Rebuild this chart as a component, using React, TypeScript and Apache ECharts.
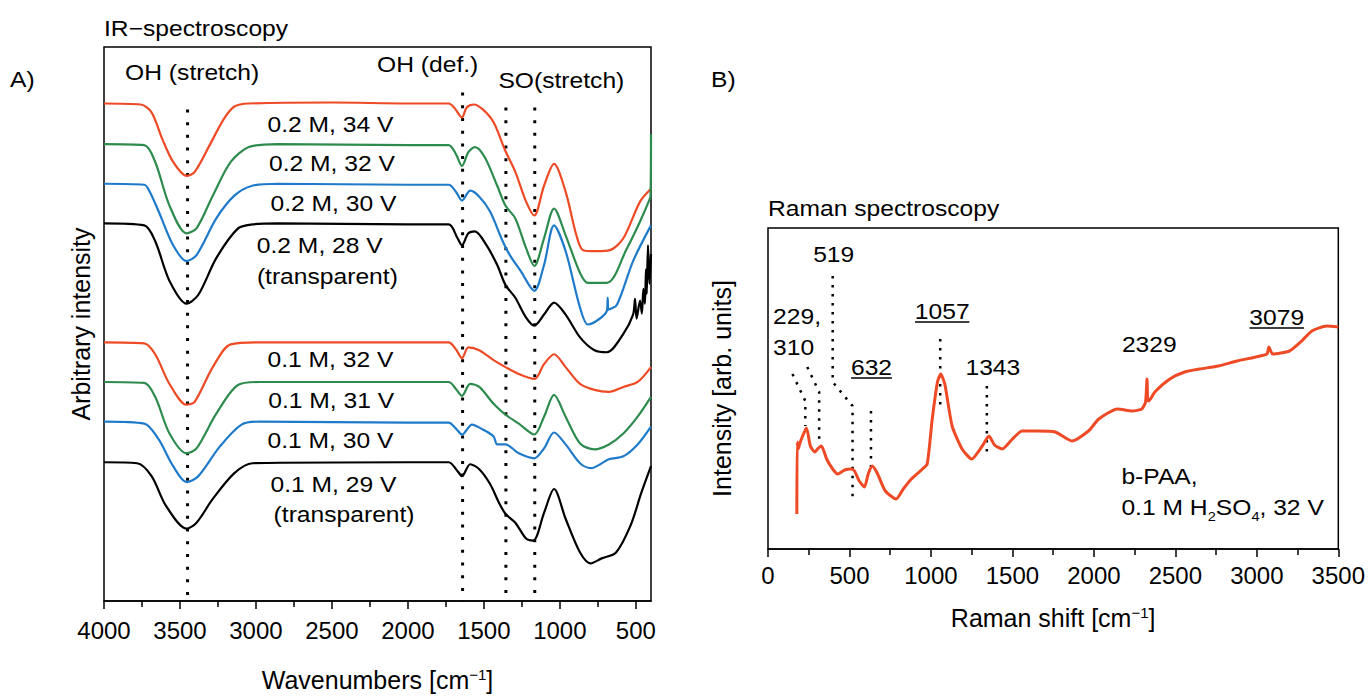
import React, { useEffect, useRef } from "react";
import * as echarts from "echarts";

const FONT = "'Liberation Sans', Arial, sans-serif";
const FS = 24;
const FS_NAME = 25;
const FS_TXT = 22;
const TXT_SCALE_X = 1.12;

// ---------- IR data (wavenumber, arbitrary intensity) ----------
const IR_A1_X = [4000, 3758, 3687, 3616, 3545, 3457, 3403, 3308, 3213, 3142, 3047, 2500, 2000, 1732, 1696, 1644, 1613, 1566, 1507, 1436, 1358, 1293, 1222, 1168, 1104, 1038, 962, 891, 847, 760, 670, 582, 472, 400];
const IR_A1_Y = [502, 501, 493, 466, 443, 429, 433, 459, 486, 499, 502, 503, 502, 502, 498, 488, 498, 501, 496, 483, 454, 433, 403, 389, 419, 441, 413, 369, 354, 353, 354, 366, 403, 416];

const IR_A2_X = [4000, 3735, 3663, 3569, 3457, 3391, 3284, 3166, 3047, 2858, 2000, 1732, 1684, 1644, 1602, 1559, 1495, 1412, 1358, 1293, 1222, 1168, 1104, 1038, 962, 867, 815, 690, 558, 472, 410, 403, 400];
const IR_A2_Y = [461, 460, 443, 399, 371, 376, 409, 443, 458, 461, 460, 460, 451, 439, 453, 458, 448, 419, 399, 386, 356, 338, 366, 396, 369, 331, 321, 321, 356, 383, 405, 409, 471];

const IR_A3_X = [4000, 3735, 3699, 3640, 3545, 3457, 3391, 3261, 3142, 3024, 2858, 2000, 1732, 1684, 1644, 1590, 1530, 1459, 1376, 1329, 1258, 1168, 1104, 1038, 962, 867, 815, 690, 685, 680, 624, 518, 400];
const IR_A3_Y = [421, 420, 413, 393, 359, 343, 349, 386, 409, 419, 421, 420, 420, 413, 404, 414, 408, 393, 363, 349, 333, 313, 339, 379, 353, 296, 279, 293, 306, 294, 299, 343, 379];

const IR_A4_X = [4000, 3735, 3663, 3569, 3457, 3379, 3261, 3118, 3024, 2858, 2000, 1732, 1673, 1644, 1602, 1559, 1483, 1412, 1358, 1293, 1222, 1168, 1104, 1038, 962, 867, 772, 690, 584, 518, 505, 495, 472, 460, 450, 440, 433, 428, 420, 410, 400];
const IR_A4_Y = [381, 379, 363, 323, 300, 309, 346, 376, 380, 381, 380, 380, 366, 359, 371, 373, 359, 339, 319, 306, 286, 278, 289, 301, 289, 266, 253, 251, 269, 289, 305, 285, 303, 290, 315, 300, 335, 310, 359, 320, 350];

const IR_B1_X = [4000, 3735, 3663, 3569, 3457, 3403, 3284, 3166, 2976, 2000, 1732, 1684, 1644, 1602, 1530, 1436, 1358, 1270, 1168, 1104, 1038, 962, 867, 772, 677, 582, 488, 400];
const IR_B1_Y = [261, 260, 249, 219, 198, 201, 236, 259, 261, 261, 261, 254, 245, 256, 253, 243, 236, 229, 224, 239, 249, 236, 219, 213, 211, 216, 221, 236];

const IR_B2_X = [4000, 3735, 3663, 3569, 3457, 3391, 3261, 3118, 2976, 2000, 1732, 1684, 1644, 1590, 1530, 1436, 1358, 1270, 1168, 1104, 1038, 962, 867, 772, 677, 582, 488, 400];
const IR_B2_Y = [221, 220, 206, 169, 149, 154, 189, 218, 221, 221, 221, 214, 207, 219, 216, 199, 188, 179, 168, 186, 208, 186, 159, 153, 158, 169, 186, 206];

const IR_B3_X = [4000, 3735, 3640, 3545, 3457, 3379, 3237, 3095, 2976, 2000, 1732, 1684, 1644, 1578, 1507, 1436, 1412, 1358, 1270, 1168, 1104, 1038, 962, 867, 796, 677, 582, 488, 400];
const IR_B3_Y = [181, 179, 163, 136, 120, 126, 156, 178, 181, 180, 180, 174, 168, 178, 173, 166, 158, 158, 149, 144, 154, 170, 158, 139, 134, 143, 146, 158, 176];

const IR_B4_X = [4000, 3782, 3687, 3592, 3457, 3391, 3284, 3142, 3024, 2000, 1732, 1673, 1644, 1590, 1530, 1459, 1400, 1358, 1293, 1222, 1175, 1104, 1038, 962, 867, 796, 725, 630, 535, 464, 400];
const IR_B4_Y = [140, 139, 126, 96, 73, 79, 103, 129, 139, 140, 140, 131, 126, 138, 133, 118, 99, 88, 79, 63, 61, 89, 113, 83, 49, 38, 43, 49, 76, 109, 136];

const IR_COLORS = ["#ee4a26", "#2e8b4e", "#1f7bc9", "#000000", "#ee4a26", "#2e8b4e", "#1f7bc9", "#000000"];

// IR annotation lines (wavenumber, top)
const IR_MARK_X = [3450, 1640, 1355, 1165];
const IR_MARK_TOP = [496, 513, 498, 498];

// IR labels
const IR_LABELS = ["0.2 M, 34 V", "0.2 M, 32 V", "0.2 M, 30 V", "0.2 M, 28 V", "(transparent)", "0.1 M, 32 V", "0.1 M, 31 V", "0.1 M, 30 V", "0.1 M, 29 V", "(transparent)"];
const IR_LABEL_X = [2510, 2500, 2490, 2580, 2530, 2510, 2505, 2510, 2490, 2420];
const IR_LABEL_Y = [481, 441, 401, 359, 327, 244, 202, 162, 118, 87];
const IR_HEAD = ["OH (stretch)", "OH (def.)", "SO(stretch)"];
const IR_HEAD_X = [3420, 1870, 990];
const IR_HEAD_Y = [533, 541, 525];

// ---------- Raman data ----------
const RAMAN_X = [177, 179, 186, 196, 210, 236, 260, 287, 310, 328, 360, 397, 428, 470, 510, 531, 560, 592, 615, 640, 670, 720, 786, 830, 880, 948, 977, 1008, 1040, 1060, 1085, 1130, 1191, 1250, 1315, 1356, 1390, 1437, 1500, 1559, 1650, 1763, 1865, 1967, 2030, 2145, 2237, 2294, 2317, 2326, 2330, 2337, 2374, 2466, 2557, 2649, 2764, 2879, 2994, 3062, 3074, 3097, 3200, 3269, 3338, 3430, 3500];
const RAMAN_Y = [35, 107, 100, 106, 112, 121, 103, 97, 101, 103, 90, 80, 75, 79, 80, 78, 68, 62, 75, 83, 76, 58, 50, 60, 70, 80, 85, 130, 167, 175, 165, 123, 100, 90, 103, 113, 104, 100, 110, 118, 118, 117, 108, 118, 130, 140, 138, 140, 147, 170, 150, 148, 157, 170, 177, 180, 183, 188, 192, 195, 202, 195, 198, 207, 218, 223, 222];

// Raman dotted guide polylines
const RAMAN_GUIDES: number[][][] = [
  [[150, 175], [229, 148], [229, 123]],
  [[241, 182], [314, 157], [314, 110]],
  [[397, 273], [397, 167], [519, 143], [519, 48]],
  [[632, 138], [632, 82]],
  [[1057, 210], [1057, 143]],
  [[1343, 163], [1343, 95]],
];

const RAMAN_LABELS = ["519", "229,", "310", "632", "1057", "1343", "2329", "3079"];
const RAMAN_LABEL_X = [403, 31, 31, 635, 1069, 1380, 2340, 3122];
const RAMAN_LABEL_Y = [295, 233, 202, 182, 238, 182, 205, 232];
const RAMAN_LABEL_ALIGN = ["center", "left", "left", "center", "center", "center", "center", "center"];
const RAMAN_UNDERLINED = [false, false, false, true, true, false, false, true];

const IR_MAJOR = [4000, 3500, 3000, 2500, 2000, 1500, 1000, 500];
const IR_MINOR = [3750, 3250, 2750, 2250, 1750, 1250, 750];

const zip = (xs: number[], ys: number[]) => xs.map((x, i) => [x, ys[i]]);

export default function App() {
  const ref = useRef<HTMLDivElement>(null);

  useEffect(() => {
    const chart = echarts.init(ref.current!, null, { renderer: "svg" });

    const irSets = [
      [IR_A1_X, IR_A1_Y], [IR_A2_X, IR_A2_Y], [IR_A3_X, IR_A3_Y], [IR_A4_X, IR_A4_Y],
      [IR_B1_X, IR_B1_Y], [IR_B2_X, IR_B2_Y], [IR_B3_X, IR_B3_Y], [IR_B4_X, IR_B4_Y],
    ];

    const series: any[] = [];
    IR_MARK_X.forEach((x, i) => {
      series.push({
        type: "line", xAxisIndex: 0, yAxisIndex: 0, showSymbol: false, silent: true,
        data: [[x, IR_MARK_TOP[i]], [x, 0]],
        lineStyle: { color: "#000", width: 3, type: [3, 9.7], cap: "butt" },
      });
    });
    irSets.forEach(([xs, ys], i) => {
      series.push({
        type: "line", xAxisIndex: 0, yAxisIndex: 0, showSymbol: false,
        smooth: 0.3,
        data: zip(xs, ys),
        lineStyle: { color: IR_COLORS[i], width: 2.2 },
      });
    });
    RAMAN_GUIDES.forEach((pts) => {
      series.push({
        type: "line", xAxisIndex: 2, yAxisIndex: 1, showSymbol: false, silent: true,
        data: pts,
        lineStyle: { color: "#000", width: 2.5, type: [2.5, 6.5], cap: "butt" },
      });
    });
    series.push({
      type: "line", xAxisIndex: 2, yAxisIndex: 1, showSymbol: false,
      smooth: 0.2,
      data: zip(RAMAN_X, RAMAN_Y),
      lineStyle: { color: "#ee4a26", width: 3 },
    });

    const axisLineStyle = { lineStyle: { color: "#000", width: 1.5 } };
    const plain = (v: number) => String(v);
    const labelStyle = { color: "#000", fontSize: FS, fontFamily: FONT, formatter: plain };
    const nameStyle = {
      color: "#000", fontSize: FS_NAME, fontFamily: FONT,
      rich: { sup: { fontSize: 15, fontFamily: FONT, color: "#000", verticalAlign: "top" } },
    };

    chart.setOption({
      animation: false,
      backgroundColor: "#fff",
      textStyle: { fontFamily: FONT },
      grid: [
        { left: 104, top: 47, width: 547, height: 559, show: true, borderColor: "#000", borderWidth: 1.5, backgroundColor: "transparent" },
        { left: 768, top: 228, width: 573, height: 321, show: true, borderColor: "#000", borderWidth: 1.5, backgroundColor: "transparent" },
      ],
      xAxis: [
        {
          type: "value", gridIndex: 0, position: "bottom", min: 400, max: 4000, inverse: true,
          axisLine: axisLineStyle,
          axisTick: { show: true, length: 8, customValues: IR_MAJOR, lineStyle: { color: "#000", width: 1.5 } },
          axisLabel: { ...labelStyle, margin: 17, customValues: IR_MAJOR },
          splitLine: { show: false },
          name: "Wavenumbers [cm{sup|−1}]", nameLocation: "middle", nameGap: 66, nameTextStyle: nameStyle,
        },
        {
          type: "value", gridIndex: 0, position: "bottom", min: 400, max: 4000, inverse: true,
          axisLine: { show: false },
          axisTick: { show: true, length: 6, customValues: IR_MINOR, lineStyle: { color: "#000", width: 1.5 } },
          axisLabel: { show: false },
          splitLine: { show: false },
        },
        {
          type: "value", gridIndex: 1, position: "bottom", min: 0, max: 3500, interval: 500,
          axisLine: axisLineStyle,
          axisTick: { show: true, length: 8, lineStyle: { color: "#000", width: 1.5 } },
          minorTick: { show: true, splitNumber: 2, length: 6, lineStyle: { color: "#000", width: 1.5 } },
          axisLabel: { ...labelStyle, margin: 14 },
          splitLine: { show: false },
          name: "Raman shift [cm{sup|−1}]", nameLocation: "middle", nameGap: 56, nameTextStyle: nameStyle,
        },
      ],
      yAxis: [
        {
          type: "value", gridIndex: 0, min: 0, max: 559,
          axisLine: { show: false }, axisTick: { show: false }, axisLabel: { show: false }, splitLine: { show: false },
          name: "Arbitrary intensity", nameLocation: "middle", nameGap: 11, nameRotate: 90,
          nameTextStyle: { color: "#000", fontSize: FS_NAME, fontFamily: FONT },
        },
        {
          type: "value", gridIndex: 1, min: 0, max: 321,
          axisLine: { show: false }, axisTick: { show: false }, axisLabel: { show: false }, splitLine: { show: false },
          name: "Intensity [arb. units]", nameLocation: "middle", nameGap: 34, nameRotate: 90,
          nameTextStyle: { color: "#000", fontSize: FS_NAME, fontFamily: FONT },
        },
      ],
      series,
    });

    const toPx = (xi: number, yi: number, x: number, y: number) =>
      chart.convertToPixel({ xAxisIndex: xi, yAxisIndex: yi } as any, [x, y]) as number[];

    const txt = (text: string, x: number, y: number, align = "center", extra: any = {}) => ({
      type: "text", x, y, silent: true, scaleX: TXT_SCALE_X,
      style: { text, fill: "#000", fontSize: FS_TXT, fontFamily: FONT, align, verticalAlign: "middle", ...extra },
    });

    const graphics: any[] = [];
    graphics.push(txt("IR−spectroscopy", 104, 28, "left"));
    graphics.push(txt("A)", 10, 79, "left"));
    graphics.push(txt("B)", 711, 79, "left"));
    graphics.push(txt("Raman spectroscopy", 768, 208, "left"));

    IR_LABELS.forEach((t, i) => {
      const [px, py] = toPx(0, 0, IR_LABEL_X[i], IR_LABEL_Y[i]);
      graphics.push(txt(t, px, py));
    });
    IR_HEAD.forEach((t, i) => {
      const [px, py] = toPx(0, 0, IR_HEAD_X[i], IR_HEAD_Y[i]);
      graphics.push(txt(t, px, py));
    });
    RAMAN_LABELS.forEach((t, i) => {
      const [px, py] = toPx(2, 1, RAMAN_LABEL_X[i], RAMAN_LABEL_Y[i]);
      graphics.push(txt(t, px, py, RAMAN_LABEL_ALIGN[i]));
      if (RAMAN_UNDERLINED[i]) {
        const w = t.length * 13.6;
        graphics.push({
          type: "line", silent: true,
          shape: { x1: px - w / 2, y1: py + 11, x2: px + w / 2, y2: py + 11 },
          style: { stroke: "#000", lineWidth: 1.5 },
        });
      }
    });
    {
      const [px, py] = toPx(2, 1, 2169, 73);
      graphics.push(txt("b-PAA,", px, py, "left"));
      const [qx, qy] = toPx(2, 1, 2169, 42);
      graphics.push({
        type: "text", x: qx, y: qy, silent: true, scaleX: TXT_SCALE_X,
        style: {
          text: "0.1 M H{sub|2}SO{sub|4}, 32 V", fill: "#000", fontSize: FS_TXT, fontFamily: FONT,
          align: "left", verticalAlign: "middle",
          rich: { sub: { fontSize: 13, fontFamily: FONT, fill: "#000", verticalAlign: "bottom", lineHeight: 32 } },
        },
      });
    }

    chart.setOption({ graphic: graphics });

    return () => chart.dispose();
  }, []);

  return (
    <div
      ref={ref}
      style={{ position: "absolute", left: 0, top: 0, width: 1368, height: 697, background: "#fff" }}
    />
  );
}
